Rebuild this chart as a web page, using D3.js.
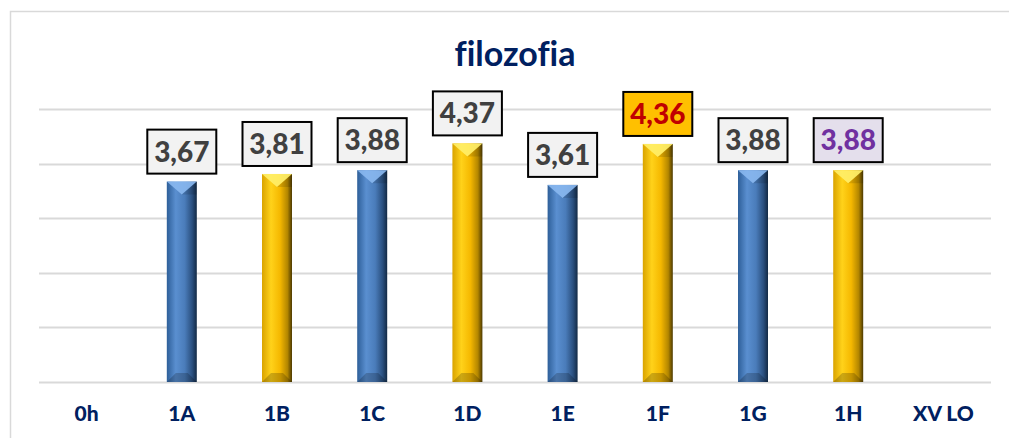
<!DOCTYPE html>
<html>
<head>
<meta charset="utf-8">
<script src="https://cdn.jsdelivr.net/npm/d3@7"></script>
<style>
  html, body { margin: 0; padding: 0; background: #fff; }
  svg { display: block; font-family: Lato, "Open Sans", sans-serif; font-variant-ligatures: none; }
</style>
</head>
<body>
<div id="chart"></div>
<script>
const categories = ["0h", "1A", "1B", "1C", "1D", "1E", "1F", "1G", "1H", "XV LO"];
const values = [null, 3.67, 3.81, 3.88, 4.37, 3.61, 4.36, 3.88, 3.88, null];
const barColors = [null, "blue", "gold", "blue", "gold", "blue", "gold", "blue", "gold", null];
const yTicks = [0, 1, 2, 3, 4, 5];

// label box styling per class (1F and 1H are highlighted)
const labelFill = { "1F": "#ffc000", "1H": "#e4dfec" };
const labelText = { "1F": "#c00000", "1H": "#7030a0" };

const width = 1009, height = 438;
const margin = { left: 39, right: 18, top: 109, bottom: 56 };

const svg = d3.select("#chart").append("svg")
    .attr("width", width)
    .attr("height", height);

// chart frame (right/bottom run past the window)
svg.append("rect")
    .attr("x", 10.5).attr("y", 11.5)
    .attr("width", width + 10).attr("height", height + 10)
    .attr("fill", "none").attr("stroke", "#d9d9d9").attr("stroke-width", 1.5);

const x = d3.scaleBand()
    .domain(categories)
    .range([margin.left, width - margin.right])
    .paddingInner(0.685).paddingOuter(0.3425);

const y = d3.scaleLinear()
    .domain([0, 5])
    .range([height - margin.bottom, margin.top]);

const defs = svg.append("defs");
const palettes = {
    blue: ["#2e5f99", "#5a8fd0", "#4a7cba", "#2a4f7e", "#132a45"],
    gold: ["#d9a300", "#ffd21a", "#f5b800", "#b38600", "#4d3a00"]
};
Object.entries(palettes).forEach(([k, c]) => {
    const g = defs.append("linearGradient").attr("id", "grad-" + k)
        .attr("x1", 0).attr("x2", 1).attr("y1", 0).attr("y2", 0);
    [[0, c[0]], [0.3, c[1]], [0.6, c[2]], [0.85, c[3]], [1, c[4]]].forEach(([o, col]) =>
        g.append("stop").attr("offset", o).attr("stop-color", col));
});

// gridlines
svg.append("g").selectAll("line")
    .data(yTicks)
    .join("line")
    .attr("x1", margin.left).attr("x2", width - margin.right)
    .attr("y1", d => Math.round(y(d)) + 0.5).attr("y2", d => Math.round(y(d)) + 0.5)
    .attr("stroke", "#d9d9d9").attr("stroke-width", 2);

// title
svg.append("text")
    .attr("x", 515).attr("y", 66)
    .attr("text-anchor", "middle")
    .attr("font-size", 34).attr("font-weight", 700)
    .attr("fill", "#002060")
    .text("filozofia");

// x axis labels
const xAxis = d3.axisBottom(x).tickSize(0).tickPadding(24);
const gx = svg.append("g")
    .attr("transform", `translate(0,${y(0)})`)
    .call(xAxis);
gx.select(".domain").remove();
gx.selectAll("text")
    .attr("font-size", 21).attr("font-weight", 900)
    .attr("fill", "#002060")
    .attr("font-family", "Lato, sans-serif");

const data = categories.map((c, i) => ({ cat: c, v: values[i], col: barColors[i] }))
    .filter(d => d.v != null);

const bars = svg.append("g").selectAll("g")
    .data(data)
    .join("g");

bars.append("rect")
    .attr("x", d => x(d.cat))
    .attr("y", d => y(d.v))
    .attr("width", x.bandwidth())
    .attr("height", d => y(0) - y(d.v))
    .attr("fill", d => `url(#grad-${d.col})`);

// top bevel: light V
const bev = 13;
bars.append("path")
    .attr("d", d => {
        const x0 = x(d.cat), x1 = x0 + x.bandwidth(), xc = (x0 + x1) / 2, t = y(d.v);
        return `M${x0},${t}L${x1},${t}L${xc},${t + bev}Z`;
    })
    .attr("fill", d => d.col === "blue" ? "#8ab8f0" : "#fff06a")
    .attr("opacity", 0.9);
bars.append("path")
    .attr("d", d => {
        const x0 = x(d.cat), x1 = x0 + x.bandwidth(), t = y(d.v);
        return `M${x1},${t}L${x1},${t + bev}L${(x0 + x1) / 2},${t + bev}Z`;
    })
    .attr("fill", "#000").attr("opacity", 0.12);

// bottom bevel: darker trapezoid
const bb = 9;
bars.append("path")
    .attr("d", d => {
        const x0 = x(d.cat), x1 = x0 + x.bandwidth(), b = y(0);
        return `M${x0},${b}L${x0 + bb},${b - bb}L${x1 - bb},${b - bb}L${x1},${b}Z`;
    })
    .attr("fill", "#000").attr("opacity", 0.2);

// value labels
const boxW = 69, boxH = 44;
const labels = svg.append("g").selectAll("g")
    .data(data)
    .join("g")
    .attr("transform", d => `translate(${x(d.cat) + x.bandwidth() / 2},${y(d.v) - 8 - boxH / 2})`);

labels.append("rect")
    .attr("x", -boxW / 2).attr("y", -boxH / 2)
    .attr("width", boxW).attr("height", boxH)
    .attr("fill", d => labelFill[d.cat] || "#f2f2f2")
    .attr("stroke", "#000").attr("stroke-width", 2);

labels.append("text")
    .attr("text-anchor", "middle")
    .attr("dy", "0.36em")
    .attr("font-size", 28).attr("font-weight", 900)
    .attr("fill", d => labelText[d.cat] || "#404040")
    .text(d => d3.format(".2f")(d.v).replace(".", ","));
</script>
</body>
</html>
